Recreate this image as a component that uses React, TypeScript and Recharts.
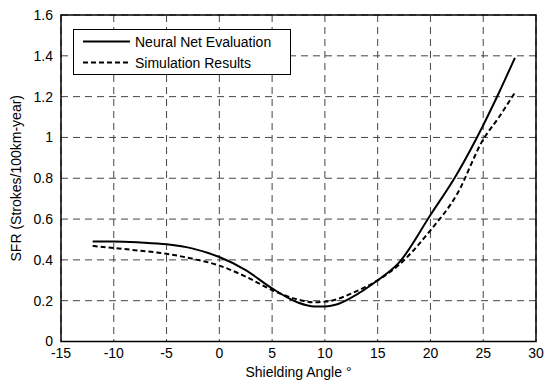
import React from "react";
import {
  LineChart,
  Line,
  XAxis,
  YAxis,
  CartesianGrid,
  ReferenceArea,
} from "recharts";

// values
const angles = [-12, -10, -7.5, -5, -2.5, 0, 2.5, 5, 7.5, 9, 10, 11, 12.5, 15, 17, 20, 22.5, 25, 26.5, 28];
const neuralNet = [0.49, 0.49, 0.485, 0.476, 0.455, 0.414, 0.35, 0.26, 0.19, 0.172, 0.172, 0.18, 0.215, 0.3, 0.385, 0.62, 0.82, 1.06, 1.22, 1.39];
const simulation = [0.468, 0.458, 0.445, 0.43, 0.405, 0.372, 0.318, 0.252, 0.205, 0.192, 0.195, 0.205, 0.235, 0.3, 0.375, 0.545, 0.72, 0.99, 1.1, 1.22];

const xTicks = [-15, -10, -5, 0, 5, 10, 15, 20, 25, 30];
const yTicks = [0, 0.2, 0.4, 0.6, 0.8, 1, 1.2, 1.4, 1.6];

const data = angles.map((a, i) => ({ angle: a, nn: neuralNet[i], sim: simulation[i] }));

const font = "'Liberation Sans', Arial, sans-serif";

// legend box drawn on top of the plot, like the matlab one
const LegendBox = () => (
  <div
    style={{
      position: "absolute",
      left: 73,
      top: 29,
      width: 218,
      height: 46,
      border: "1px solid #000",
      background: "#fff",
      boxSizing: "border-box",
    }}
  >
    <svg width={216} height={44} style={{ display: "block" }}>
      <line x1={9} x2={56} y1={11.5} y2={11.5} stroke="#000" strokeWidth={2} />
      <line x1={9} x2={56} y1={32.5} y2={32.5} stroke="#000" strokeWidth={2} strokeDasharray="5 3" />
      <text x={61} y={16.5} fontSize={14} fontFamily={font}>Neural Net Evaluation</text>
      <text x={61} y={37.5} fontSize={14} fontFamily={font}>Simulation Results</text>
    </svg>
  </div>
);

export default function App() {
  return (
    <div style={{ position: "absolute", left: 0, top: 0, width: 554, height: 385, background: "#fff" }}>
      <LineChart width={554} height={385} data={data} margin={{ top: 15, right: 18, left: 0, bottom: 0 }}>
        <CartesianGrid stroke="#444" strokeDasharray="7 5" strokeWidth={1} />
        <XAxis
          dataKey="angle"
          type="number"
          domain={[-15, 30]}
          ticks={xTicks}
          allowDataOverflow
          height={43.5}
          axisLine={false}
          tickLine={false}
          tickMargin={1}
          tick={{ fill: "#000", fontSize: 14, fontFamily: font }}
          label={{ value: "Shielding Angle \u00b0", position: "insideBottom", offset: 8, fill: "#000", fontSize: 14, fontFamily: font }}
        />
        <YAxis
          type="number"
          domain={[0, 1.6]}
          ticks={yTicks}
          width={61}
          axisLine={false}
          tickLine={false}
          tickMargin={2}
          tick={{ fill: "#000", fontSize: 14, fontFamily: font }}
          label={{ value: "SFR (Strokes/100km-year)", angle: -90, position: "insideLeft", offset: 16, style: { textAnchor: "middle" }, fill: "#000", fontSize: 14, fontFamily: font }}
        />
        <ReferenceArea x1={-15} x2={30} y1={0} y2={1.6} fill="none" stroke="#000" strokeWidth={1.5} />
        <Line type="monotone" dataKey="nn" stroke="#000" strokeWidth={2} dot={false} isAnimationActive={false} />
        <Line type="monotone" dataKey="sim" stroke="#000" strokeWidth={2} strokeDasharray="5 3" dot={false} isAnimationActive={false} />
      </LineChart>
      <LegendBox />
    </div>
  );
}
